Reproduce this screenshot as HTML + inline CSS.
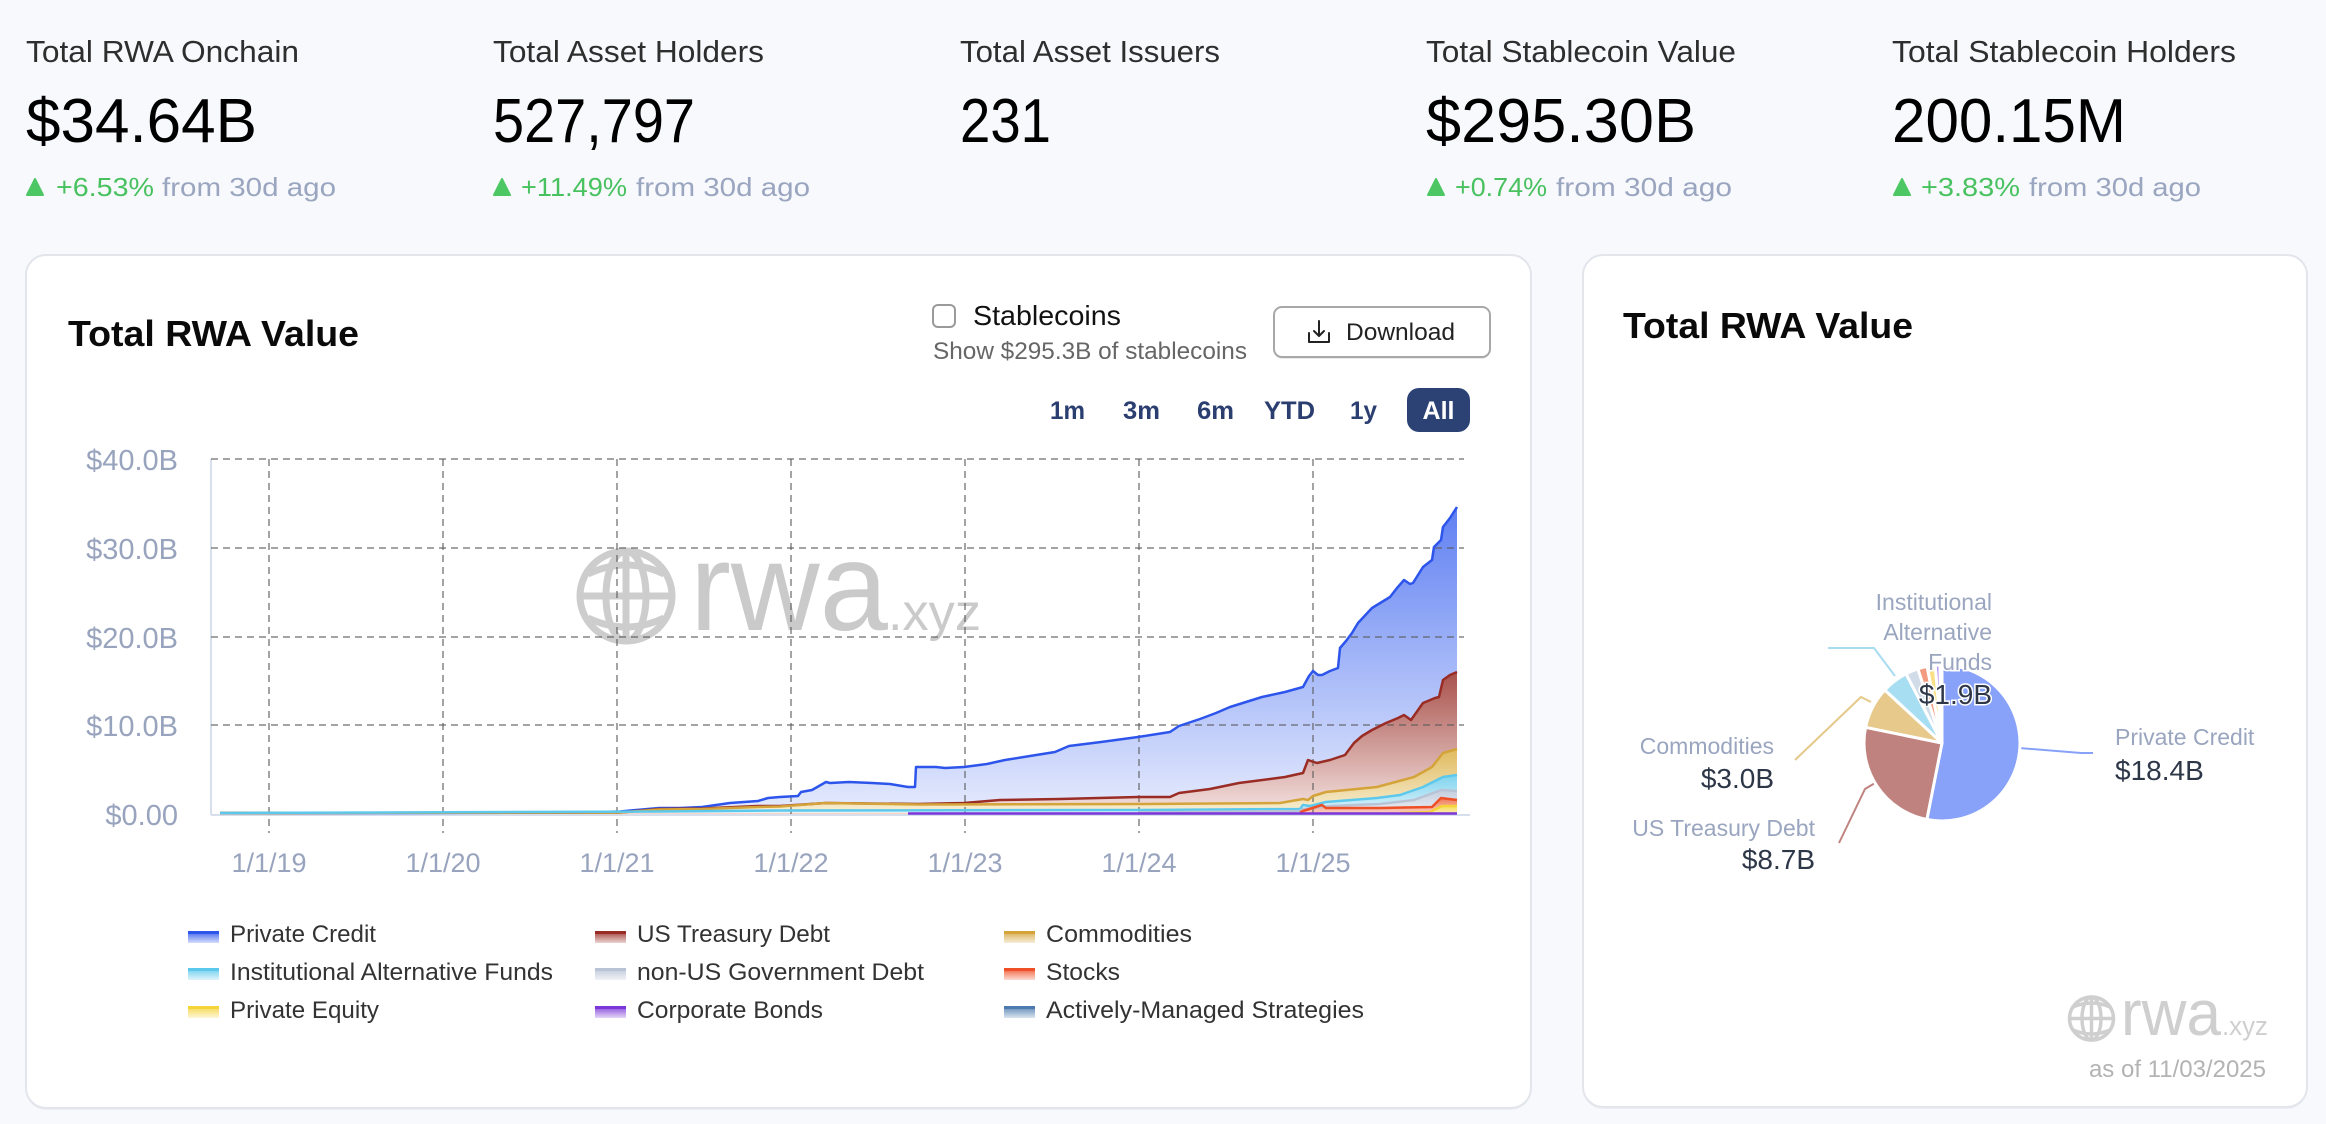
<!DOCTYPE html>
<html>
<head>
<meta charset="utf-8">
<style>
html,body{margin:0;padding:0;background:#f8f9fd;}
body{width:2326px;height:1124px;overflow:hidden;}
svg{display:block;font-family:"Liberation Sans","DejaVu Sans",sans-serif;}
</style>
</head>
<body>
<svg width="2326" height="1124" viewBox="0 0 2326 1124" xmlns="http://www.w3.org/2000/svg">
<defs>
<linearGradient id="gBlue" gradientUnits="userSpaceOnUse" x1="0" y1="507" x2="0" y2="814"><stop offset="0" stop-color="#5f80f2"/><stop offset="1" stop-color="#e6ebfd"/></linearGradient>
<linearGradient id="gRed" gradientUnits="userSpaceOnUse" x1="0" y1="672" x2="0" y2="814"><stop offset="0" stop-color="#a9514b"/><stop offset="1" stop-color="#f4e3e1"/></linearGradient>
<linearGradient id="gGold" gradientUnits="userSpaceOnUse" x1="0" y1="747" x2="0" y2="814"><stop offset="0" stop-color="#dfb95a"/><stop offset="1" stop-color="#f8efd6"/></linearGradient>
<linearGradient id="gCyan" gradientUnits="userSpaceOnUse" x1="0" y1="775" x2="0" y2="814"><stop offset="0" stop-color="#7fd3ef"/><stop offset="1" stop-color="#e3f5fb"/></linearGradient>
<linearGradient id="gGray" gradientUnits="userSpaceOnUse" x1="0" y1="790" x2="0" y2="814"><stop offset="0" stop-color="#c3cddd"/><stop offset="1" stop-color="#eef1f6"/></linearGradient>
<linearGradient id="gStk" gradientUnits="userSpaceOnUse" x1="0" y1="798" x2="0" y2="814"><stop offset="0" stop-color="#f07a55"/><stop offset="1" stop-color="#fbd5c8"/></linearGradient>
<linearGradient id="gYel" gradientUnits="userSpaceOnUse" x1="0" y1="806" x2="0" y2="814"><stop offset="0" stop-color="#f7dc5f"/><stop offset="1" stop-color="#fcefb5"/></linearGradient>
<linearGradient id="sw" x1="0" y1="0" x2="0" y2="1"><stop offset="0" stop-color="#fff" stop-opacity="0.25"/><stop offset="1" stop-color="#fff" stop-opacity="0.8"/></linearGradient>
</defs>

<!-- page bg -->
<rect x="0" y="0" width="2326" height="1124" fill="#f8f9fd"/>

<!-- ===== Header stats ===== -->
<g font-size="31" fill="#2e2e2e">
<text x="26" y="62" textLength="273" lengthAdjust="spacingAndGlyphs">Total RWA Onchain</text>
<text x="493" y="62" textLength="271" lengthAdjust="spacingAndGlyphs">Total Asset Holders</text>
<text x="960" y="62" textLength="260" lengthAdjust="spacingAndGlyphs">Total Asset Issuers</text>
<text x="1426" y="62" textLength="310" lengthAdjust="spacingAndGlyphs">Total Stablecoin Value</text>
<text x="1892" y="62" textLength="344" lengthAdjust="spacingAndGlyphs">Total Stablecoin Holders</text>
</g>
<g font-size="62" fill="#000">
<text x="26" y="142" textLength="231" lengthAdjust="spacingAndGlyphs">$34.64B</text>
<text x="493" y="142" textLength="202" lengthAdjust="spacingAndGlyphs">527,797</text>
<text x="960" y="142" textLength="91" lengthAdjust="spacingAndGlyphs">231</text>
<text x="1426" y="142" textLength="270" lengthAdjust="spacingAndGlyphs">$295.30B</text>
<text x="1892" y="142" textLength="234" lengthAdjust="spacingAndGlyphs">200.15M</text>
</g>
<g fill="#4cc764" stroke="#4cc764" stroke-width="2" stroke-linejoin="round">
<polygon points="27,195 35,179 43,195"/>
<polygon points="494,195 502,179 510,195"/>
<polygon points="1428,195 1436,179 1444,195"/>
<polygon points="1894,195 1902,179 1910,195"/>
</g>
<g font-size="26" fill="#48c15f">
<text x="56" y="196" textLength="98" lengthAdjust="spacingAndGlyphs">+6.53%</text>
<text x="521" y="196" textLength="106" lengthAdjust="spacingAndGlyphs">+11.49%</text>
<text x="1455" y="196" textLength="92" lengthAdjust="spacingAndGlyphs">+0.74%</text>
<text x="1921" y="196" textLength="99" lengthAdjust="spacingAndGlyphs">+3.83%</text>
</g>
<g font-size="26" fill="#9aa5bf">
<text x="162" y="196" textLength="174" lengthAdjust="spacingAndGlyphs">from 30d ago</text>
<text x="636" y="196" textLength="174" lengthAdjust="spacingAndGlyphs">from 30d ago</text>
<text x="1556" y="196" textLength="176" lengthAdjust="spacingAndGlyphs">from 30d ago</text>
<text x="2029" y="196" textLength="172" lengthAdjust="spacingAndGlyphs">from 30d ago</text>
</g>

<!-- ===== Cards ===== -->
<rect x="26" y="257" width="1505" height="853" rx="20" fill="#eceef3"/>
<rect x="26" y="255" width="1505" height="853" rx="20" fill="#ffffff" stroke="#e2e5eb" stroke-width="2"/>
<rect x="1583" y="257" width="724" height="852" rx="20" fill="#eceef3"/>
<rect x="1583" y="255" width="724" height="852" rx="20" fill="#ffffff" stroke="#e2e5eb" stroke-width="2"/>

<!-- ===== Left card header ===== -->
<text x="68" y="346" font-size="36" font-weight="bold" fill="#0a0a0a" textLength="291" lengthAdjust="spacingAndGlyphs">Total RWA Value</text>

<rect x="933" y="305" width="22" height="22" rx="5" fill="#fff" stroke="#9a9a9a" stroke-width="2"/>
<text x="973" y="325" font-size="28" fill="#111" textLength="148" lengthAdjust="spacingAndGlyphs">Stablecoins</text>
<text x="933" y="359" font-size="24" fill="#666" textLength="314" lengthAdjust="spacingAndGlyphs">Show $295.3B of stablecoins</text>

<rect x="1274" y="309" width="216" height="50" rx="8" fill="#e9eaee"/>
<rect x="1274" y="307" width="216" height="50" rx="8" fill="#fff" stroke="#a8a8a8" stroke-width="2"/>
<g stroke="#222" stroke-width="2" fill="none" stroke-linecap="round" stroke-linejoin="round">
<path d="M1309,333 v9 h20 v-9"/>
<path d="M1319,321 v15 M1314,331 l5,5 l5,-5"/>
</g>
<text x="1346" y="340" font-size="24" fill="#222" textLength="109" lengthAdjust="spacingAndGlyphs">Download</text>

<g font-size="25" font-weight="bold" fill="#2b3e70">
<text x="1050" y="419" textLength="35" lengthAdjust="spacingAndGlyphs">1m</text>
<text x="1123" y="419" textLength="37" lengthAdjust="spacingAndGlyphs">3m</text>
<text x="1197" y="419" textLength="37" lengthAdjust="spacingAndGlyphs">6m</text>
<text x="1264" y="419" textLength="51" lengthAdjust="spacingAndGlyphs">YTD</text>
<text x="1350" y="419" textLength="27" lengthAdjust="spacingAndGlyphs">1y</text>
</g>
<rect x="1407" y="388" width="63" height="44" rx="12" fill="#2c4275"/>
<text x="1438.5" y="419" font-size="25" font-weight="bold" fill="#fff" text-anchor="middle">All</text>

<!-- ===== Chart ===== -->
<!-- watermark -->
<g stroke="#cdcdcd" stroke-width="7" fill="none">
<ellipse cx="626" cy="596" rx="46" ry="45"/>
<ellipse cx="626" cy="596" rx="20" ry="45"/>
<line x1="626" y1="551" x2="626" y2="641"/>
<line x1="580" y1="596" x2="672" y2="596"/>
<path d="M588,574 Q626,556 664,574"/>
<path d="M588,618 Q626,636 664,618"/>
</g>
<text x="690" y="630" font-size="125" fill="#cacaca" textLength="198" lengthAdjust="spacingAndGlyphs">rwa</text>
<text x="888" y="630" font-size="52" fill="#cacaca" textLength="93" lengthAdjust="spacingAndGlyphs">.xyz</text>

<!-- axes -->
<line x1="211" y1="459" x2="211" y2="815" stroke="#d6dfeb" stroke-width="2"/>

<!-- areas -->
<path fill="url(#gBlue)" d="M220,814 L220,813 400,813 579,812.5 620,811.5 659,808 680,808 702,807 730,803 758,801 768,798 780,797 798,796 801,792 812,790 826,782 830,783 849,782 872,783 890,784 908,787 915,787 916,767 936,767 945,768 964,767 987,764 1005,760 1030,756 1055,752 1069,746 1101,742 1138,737 1170,732 1179,726 1200,719 1216,713 1230,707 1262,697 1285,692 1303,687 1309,676 1313,671 1318,675 1322,675 1330,671 1338,668 1340,648 1346,641 1352,633 1358,623 1372,608 1390,597 1397,588 1404,580 1410,584 1413,583 1423,567 1432,560 1434,547 1441,540 1443,527 1450,518 1457,507 L1457,814 Z"/>
<path fill="url(#gRed)" d="M220,814 L220,813 620,812.5 659,809 702,808.5 758,806 780,806 826,803 918,804 964,803 1000,800 1060,799 1138,797 1170,797 1179,793 1210,789 1239,783 1285,777 1303,773 1308,760 1317,763 1330,760 1345,755 1354,743 1362,736 1372,730 1386,723 1398,718 1404,715 1411,720 1423,703 1435,698 1439,697 1443,680 1450,675 1457,672 L1457,814 Z"/>
<path fill="url(#gGold)" d="M220,814 L220,813 620,812.5 659,809.5 702,809 758,807 780,806.5 826,803 918,804.5 1138,804 1280,803 1303,799 1308,800 1313,796 1326,792 1377,787 1414,777 1432,767 1443,753 1457,749 L1457,814 Z"/>
<path fill="url(#gCyan)" d="M220,814 L220,813 659,811.5 780,810.5 1138,810 1300,809 1303,805 1310,806 1326,802 1377,798 1400,795 1423,787 1443,777 1457,775 L1457,814 Z"/>
<path fill="url(#gGray)" d="M220,814 L220,813.5 1138,812.5 1300,811 1303,809 1330,806 1380,804 1414,800 1441,790 1457,791 L1457,814 Z"/>
<path fill="url(#gStk)" d="M220,814 L220,813.5 1300,812.5 1303,811 1322,805 1326,808 1380,808 1432,807 1441,798 1457,800 L1457,814 Z"/>
<path fill="url(#gYel)" d="M1400,814 L1400,813 1430,812 1442,806 1457,806 L1457,814 Z"/>

<!-- gridlines -->
<g stroke="rgba(90,90,90,0.55)" stroke-width="2" stroke-dasharray="7 5" fill="none">
<line x1="211" y1="459" x2="1464" y2="459"/>
<line x1="211" y1="548" x2="1464" y2="548"/>
<line x1="211" y1="637" x2="1464" y2="637"/>
<line x1="211" y1="725" x2="1464" y2="725"/>
<line x1="269" y1="459" x2="269" y2="833"/>
<line x1="443" y1="459" x2="443" y2="833"/>
<line x1="617" y1="459" x2="617" y2="833"/>
<line x1="791" y1="459" x2="791" y2="833"/>
<line x1="965" y1="459" x2="965" y2="833"/>
<line x1="1139" y1="459" x2="1139" y2="833"/>
<line x1="1313" y1="459" x2="1313" y2="833"/>
</g>
<line x1="211" y1="815" x2="1470" y2="815" stroke="#d6dfeb" stroke-width="2"/>

<!-- lines -->
<g fill="none" stroke-width="2.5" stroke-linejoin="round">
<polyline stroke="#2d55ec" points="220,813 400,813 579,812.5 620,811.5 659,808 680,808 702,807 730,803 758,801 768,798 780,797 798,796 801,792 812,790 826,782 830,783 849,782 872,783 890,784 908,787 915,787 916,767 936,767 945,768 964,767 987,764 1005,760 1030,756 1055,752 1069,746 1101,742 1138,737 1170,732 1179,726 1200,719 1216,713 1230,707 1262,697 1285,692 1303,687 1309,676 1313,671 1318,675 1322,675 1330,671 1338,668 1340,648 1346,641 1352,633 1358,623 1372,608 1390,597 1397,588 1404,580 1410,584 1413,583 1423,567 1432,560 1434,547 1441,540 1443,527 1450,518 1457,507"/>
<polyline stroke="#992c24" points="220,813 620,812.5 659,809 702,808.5 758,806 780,806 826,803 918,804 964,803 1000,800 1060,799 1138,797 1170,797 1179,793 1210,789 1239,783 1285,777 1303,773 1308,760 1317,763 1330,760 1345,755 1354,743 1362,736 1372,730 1386,723 1398,718 1404,715 1411,720 1423,703 1435,698 1439,697 1443,680 1450,675 1457,672"/>
<polyline stroke="#d4a43a" points="220,813 620,812.5 659,809.5 702,809 758,807 780,806.5 826,803 918,804.5 1138,804 1280,803 1303,799 1308,800 1313,796 1326,792 1377,787 1414,777 1432,767 1443,753 1457,749"/>
<polyline stroke="#5cc9ec" points="220,813 659,811.5 780,810.5 1138,810 1300,809 1303,805 1310,806 1326,802 1377,798 1400,795 1423,787 1443,777 1457,775"/>
<polyline stroke="#b9c3d6" points="1138,812.5 1300,811 1303,809 1330,806 1380,804 1414,800 1441,790 1457,791"/>
<polyline stroke="#ee4f26" points="1300,812.5 1303,811 1322,805 1326,808 1380,808 1432,807 1441,798 1457,800"/>
<polyline stroke="#f5d43a" points="1400,813 1430,812 1442,806 1457,806"/>
<polyline stroke="#7b35d8" points="908,813.5 1457,813.5"/>
</g>

<!-- y labels -->
<g font-size="29" fill="#98a3bd" text-anchor="end">
<text x="178" y="470">$40.0B</text>
<text x="178" y="559">$30.0B</text>
<text x="178" y="648">$20.0B</text>
<text x="178" y="736">$10.0B</text>
<text x="178" y="825">$0.00</text>
</g>
<!-- x labels -->
<g font-size="27" fill="#98a3bd" text-anchor="middle">
<text x="269" y="872">1/1/19</text>
<text x="443" y="872">1/1/20</text>
<text x="617" y="872">1/1/21</text>
<text x="791" y="872">1/1/22</text>
<text x="965" y="872">1/1/23</text>
<text x="1139" y="872">1/1/24</text>
<text x="1313" y="872">1/1/25</text>
</g>

<!-- legend -->
<g>
<rect x="188" y="931" width="31" height="12" fill="#2d55ec"/><rect x="188" y="934" width="31" height="9" fill="url(#sw)"/>
<rect x="188" y="968" width="31" height="12" fill="#5cc9ec"/><rect x="188" y="971" width="31" height="9" fill="url(#sw)"/>
<rect x="188" y="1006" width="31" height="12" fill="#f5d43a"/><rect x="188" y="1009" width="31" height="9" fill="url(#sw)"/>
<rect x="595" y="931" width="31" height="12" fill="#992c24"/><rect x="595" y="934" width="31" height="9" fill="url(#sw)"/>
<rect x="595" y="968" width="31" height="12" fill="#b9c3d6"/><rect x="595" y="971" width="31" height="9" fill="url(#sw)"/>
<rect x="595" y="1006" width="31" height="12" fill="#7b35d8"/><rect x="595" y="1009" width="31" height="9" fill="url(#sw)"/>
<rect x="1004" y="931" width="31" height="12" fill="#d4a43a"/><rect x="1004" y="934" width="31" height="9" fill="url(#sw)"/>
<rect x="1004" y="968" width="31" height="12" fill="#ee4f26"/><rect x="1004" y="971" width="31" height="9" fill="url(#sw)"/>
<rect x="1004" y="1006" width="31" height="12" fill="#4a7ab0"/><rect x="1004" y="1009" width="31" height="9" fill="url(#sw)"/>
</g>
<g font-size="24" fill="#333">
<text x="230" y="942" textLength="146" lengthAdjust="spacingAndGlyphs">Private Credit</text>
<text x="230" y="980" textLength="323" lengthAdjust="spacingAndGlyphs">Institutional Alternative Funds</text>
<text x="230" y="1018" textLength="149" lengthAdjust="spacingAndGlyphs">Private Equity</text>
<text x="637" y="942" textLength="193" lengthAdjust="spacingAndGlyphs">US Treasury Debt</text>
<text x="637" y="980" textLength="287" lengthAdjust="spacingAndGlyphs">non-US Government Debt</text>
<text x="637" y="1018" textLength="186" lengthAdjust="spacingAndGlyphs">Corporate Bonds</text>
<text x="1046" y="942" textLength="146" lengthAdjust="spacingAndGlyphs">Commodities</text>
<text x="1046" y="980" textLength="74" lengthAdjust="spacingAndGlyphs">Stocks</text>
<text x="1046" y="1018" textLength="318" lengthAdjust="spacingAndGlyphs">Actively-Managed Strategies</text>
</g>

<!-- ===== Right card ===== -->
<text x="1623" y="338" font-size="36" font-weight="bold" fill="#0a0a0a" textLength="290" lengthAdjust="spacingAndGlyphs">Total RWA Value</text>

<!-- leader lines -->
<g fill="none" stroke-width="2">
<polyline stroke="#87a2f8" points="2019,748 2081,753 2093,753"/>
<polyline stroke="#a8dcf0" points="1895,676 1874,648 1828,648"/>
<polyline stroke="#e5c98a" points="1871,702 1861,697 1795,760"/>
<polyline stroke="#c08480" points="1875,783 1865,789 1839,843"/>
</g>

<!-- pie -->
<g stroke="#fff" stroke-width="3" stroke-linejoin="round">
<path fill="#87a2f8" d="M1942,743 L1942,665 A78,78 0 1 1 1926.85,819.52 Z"/>
<path fill="#c0827f" d="M1942,743 L1926.85,819.52 A78,78 0 0 1 1865.59,727.32 Z"/>
<path fill="#e6c98b" d="M1942,743 L1865.59,727.32 A78,78 0 0 1 1884.77,690.01 Z"/>
<path fill="#a7def2" d="M1942,743 L1884.77,690.01 A78,78 0 0 1 1905.99,673.81 Z"/>
<path fill="#d2dce9" d="M1942,743 L1905.99,673.81 A78,78 0 0 1 1917.90,668.82 Z"/>
<path fill="#f29b80" d="M1942,743 L1917.90,668.82 A78,78 0 0 1 1927.12,666.44 Z"/>
<path fill="#f9df86" d="M1942,743 L1927.12,666.44 A78,78 0 0 1 1935.20,665.30 Z"/>
<path fill="#b99af7" d="M1942,743 L1935.20,665.30 A78,78 0 0 1 1939.96,665.03 Z"/>
<path fill="#8fa9c9" d="M1942,743 L1939.96,665.03 A78,78 0 0 1 1942,665 Z"/>
</g>

<!-- pie labels -->
<g font-size="23" fill="#9aa5bf" text-anchor="end">
<text x="1992" y="610">Institutional</text>
<text x="1992" y="640">Alternative</text>
<text x="1992" y="670" stroke="#fff" stroke-width="3" paint-order="stroke">Funds</text>
<text x="1774" y="754">Commodities</text>
<text x="1815" y="836">US Treasury Debt</text>
</g>
<g font-size="28" fill="#2d3748" text-anchor="end">
<text x="1992" y="704" stroke="#fff" stroke-width="3" paint-order="stroke">$1.9B</text>
<text x="1774" y="788">$3.0B</text>
<text x="1815" y="869">$8.7B</text>
</g>
<text x="2115" y="745" font-size="23" fill="#9aa5bf">Private Credit</text>
<text x="2115" y="780" font-size="28" fill="#2d3748">$18.4B</text>

<!-- bottom-right watermark -->
<g stroke="#cfcfcf" stroke-width="3.5" fill="none">
<ellipse cx="2091.5" cy="1018.5" rx="22" ry="21.5"/>
<ellipse cx="2091.5" cy="1018.5" rx="9.5" ry="21.5"/>
<line x1="2091.5" y1="997" x2="2091.5" y2="1040"/>
<line x1="2070" y1="1018.5" x2="2113" y2="1018.5"/>
<path d="M2073,1007 Q2091.5,999 2110,1007"/>
<path d="M2073,1030 Q2091.5,1038 2110,1030"/>
</g>
<text x="2121" y="1035" font-size="64" fill="#cfcfcf" textLength="100" lengthAdjust="spacingAndGlyphs">rwa</text>
<text x="2222" y="1035" font-size="27" fill="#cfcfcf" textLength="46" lengthAdjust="spacingAndGlyphs">.xyz</text>
<text x="2266" y="1077" font-size="24" fill="#b3b3b3" text-anchor="end">as of 11/03/2025</text>
</svg>
</body>
</html>
